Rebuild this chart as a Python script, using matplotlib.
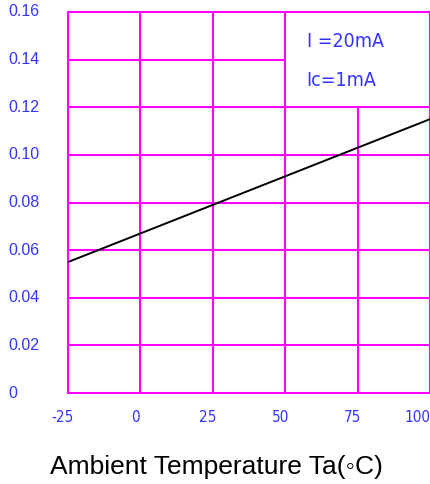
import matplotlib
matplotlib.use('Agg')
import matplotlib.pyplot as plt
from matplotlib.transforms import offset_copy, blended_transform_factory

# data
temperature = [-25, 100]
voltage = [0.055, 0.115]

xTicks = [-25, 0, 25, 50, 75, 100]
yTicks = [0, 0.02, 0.04, 0.06, 0.08, 0.10, 0.12, 0.14, 0.16]
yTickLabels = ['0', '0.02', '0.04', '0.06', '0.08', '0.10', '0.12', '0.14', '0.16']
conditionLines = ['I =20mA', 'Ic=1mA']

gridColor = '#ff00ff'
labelColor = '#3333ff'
narrow = dict(family='DejaVu Sans', stretch='condensed')

fig = plt.figure(figsize=(4.30, 4.84), dpi=100)
ax = fig.add_axes([68 / 430, 91 / 484, 362 / 430, 381 / 484])
ax.set_xlim(-25, 100)
ax.set_ylim(0, 0.16)

# magenta grid, with the box for the conditions left open
for y in yTicks[1:-1]:
    if y == 0.14:
        ax.hlines(y, -25, 50, color=gridColor, lw=1.5, zorder=1)
    else:
        ax.hlines(y, -25, 100, color=gridColor, lw=1.5, zorder=1)
for x in xTicks[1:-1]:
    if x == 75:
        ax.vlines(x, 0, 0.12, color=gridColor, lw=1.5, zorder=1)
    else:
        ax.vlines(x, 0, 0.16, color=gridColor, lw=1.5, zorder=1)
for side in ax.spines.values():
    side.set_color(gridColor)
    side.set_linewidth(1.5)

ax.plot(temperature, voltage, color='black', lw=1.4, zorder=3)

ax.set_xticks([])
ax.set_yticks([])

# tick labels placed by hand to mimic the datasheet look
ytrans = blended_transform_factory(fig.transFigure, ax.transData)
for y, lab in zip(yTicks, yTickLabels):
    ax.text(8 / 430, y, lab, transform=ytrans, ha='left', va='center',
            fontsize=11.5, color=labelColor, family='Liberation Sans', clip_on=False)

xtrans = offset_copy(ax.get_xaxis_transform(), fig=fig, x=-5, y=0, units='dots')
edgetrans = offset_copy(ax.get_xaxis_transform(), fig=fig, x=0, y=0, units='dots')
for x in xTicks:
    if x == xTicks[-1]:
        ax.text(x, -24 / 381, str(x), transform=edgetrans, ha='right', va='center',
                fontsize=11, color=labelColor, clip_on=False, **narrow)
    else:
        ax.text(x, -24 / 381, str(x), transform=xtrans, ha='center', va='center',
                fontsize=11, color=labelColor, clip_on=False, **narrow)

ax.text(57.5, 0.1475, conditionLines[0], ha='left', va='center', fontsize=14,
        color=labelColor, **narrow)
ax.text(57.2, 0.1312, conditionLines[1], ha='left', va='center', fontsize=14,
        color=labelColor, **narrow)

fig.text(216 / 430, 1 - 467 / 484, 'Ambient Temperature Ta(\u25e6C)', ha='center',
         va='center', fontsize=19, color='black',
         family=['Liberation Sans', 'DejaVu Sans'])

fig.savefig('out.png', dpi=100)
